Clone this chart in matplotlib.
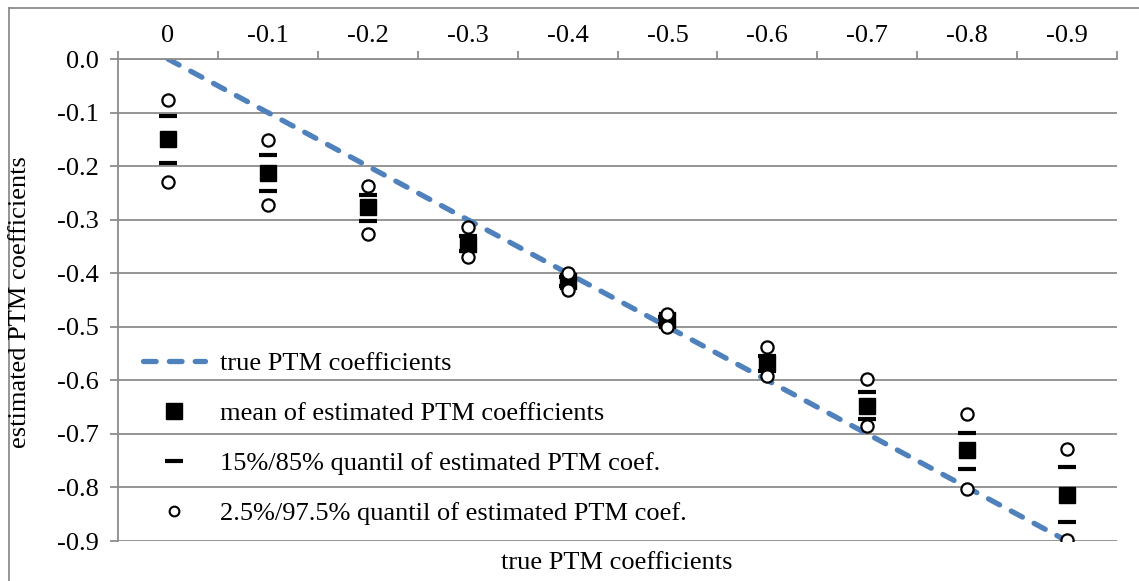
import matplotlib
matplotlib.use("Agg")
import matplotlib.pyplot as plt
from matplotlib.lines import Line2D

plt.rcParams["font.family"] = ["Liberation Serif", "DejaVu Serif"]
plt.rcParams["font.size"] = 19

# true PTM coefficients (categories) and simulation summaries
categories = ["0", "-0.1", "-0.2", "-0.3", "-0.4", "-0.5", "-0.6", "-0.7", "-0.8", "-0.9"]
true_coef = [0.0, -0.1, -0.2, -0.3, -0.4, -0.5, -0.6, -0.7, -0.8, -0.9]
mean_est = [-0.150, -0.213, -0.277, -0.345, -0.415, -0.488, -0.568, -0.647, -0.731, -0.815]
q85 = [-0.106, -0.179, -0.254, -0.330, -0.407, -0.482, -0.555, -0.621, -0.698, -0.761]
q15 = [-0.195, -0.246, -0.302, -0.359, -0.423, -0.494, -0.582, -0.672, -0.765, -0.864]
q975 = [-0.077, -0.152, -0.238, -0.314, -0.400, -0.477, -0.537, -0.597, -0.663, -0.728]
q025 = [-0.229, -0.273, -0.327, -0.370, -0.431, -0.501, -0.592, -0.685, -0.802, -0.898]

W, H = 1139, 581
fig = plt.figure(figsize=(W / 100, H / 100), dpi=100)
ax = fig.add_axes([118 / W, 1 - 541 / H, (1117 - 118) / W, (541 - 59) / H])

x = list(range(len(categories)))
grid_col = "#8c8c8c"
blue = "#4F81BD"

ax.plot(x, true_coef, color=blue, lw=3.8, linestyle=(0, (2.4, 2.5)),
        dash_capstyle="round", zorder=2)
ax.plot(x, mean_est, "s", color="black", ms=11.3, zorder=4)
ax.plot(x, q85, "_", color="black", ms=12.5, mew=3.0, zorder=3)
ax.plot(x, q15, "_", color="black", ms=12.5, mew=3.0, zorder=3)
ax.plot(x, q975, "o", mfc="white", mec="black", ms=8.8, mew=1.6, zorder=5)
ax.plot(x, q025, "o", mfc="white", mec="black", ms=8.8, mew=1.6, zorder=5)

ax.set_xlim(-0.5, len(categories) - 0.5)
ax.set_ylim(-0.9, 0.0)

# category axis sits on the top (y = 0) line
ax.xaxis.tick_top()
ax.set_xticks(x)
ax.set_xticklabels(categories)
ax.set_xticks([i - 0.5 for i in range(len(categories) + 1)], minor=True)
ax.tick_params(axis="x", which="major", length=0, pad=9)
ax.tick_params(axis="x", which="minor", length=6, width=1.3, color=grid_col, direction="out")

yt = [round(-0.1 * i, 1) for i in range(10)]
ax.set_yticks(yt)
ax.set_yticklabels([f"{abs(v):.1f}" if v == 0 else f"{v:.1f}" for v in yt])
ax.tick_params(axis="y", length=6, width=1.3, color=grid_col, pad=8)

ax.yaxis.grid(True, color=grid_col, lw=1.3)
ax.set_axisbelow(True)
for side in ["right", "bottom"]:
    ax.spines[side].set_visible(False)
for side in ["left", "top"]:
    ax.spines[side].set_color(grid_col)
    ax.spines[side].set_linewidth(1.3)

fig.text(20 / W, 1 - 302 / H, "estimated PTM coefficients", rotation=90,
         ha="center", va="center")
fig.text(617 / W, 1 - 563 / H, "true PTM coefficients", ha="center", va="center")

# outer chart frame (left and top edges)
fig.add_artist(Line2D([9 / W, 9 / W], [0, 1 - 8 / H], color=grid_col, lw=1.3))
fig.add_artist(Line2D([9 / W, 1], [1 - 8 / H, 1 - 8 / H], color=grid_col, lw=1.3))

handles = [
    Line2D([], [], color=blue, lw=3.8, linestyle=(0, (2.4, 2.5)), dash_capstyle="round"),
    Line2D([], [], marker="s", ls="", color="black", ms=12),
    Line2D([], [], marker="_", ls="", color="black", ms=12.5, mew=3.0),
    Line2D([], [], marker="o", ls="", mfc="white", mec="black", ms=7, mew=1.5),
]
labels = ["true PTM coefficients", "mean of estimated PTM coefficients",
          "15%/85% quantil of estimated PTM coef.", "2.5%/97.5% quantil of estimated PTM coef."]
ax.legend(handles, labels, loc="upper left", bbox_to_anchor=(143 / W, 1 - 352 / H),
          bbox_transform=fig.transFigure, frameon=False, labelspacing=1.0,
          handlelength=2.35, handletextpad=0.57, borderaxespad=0, borderpad=0)

fig.savefig("out.png", dpi=100)
